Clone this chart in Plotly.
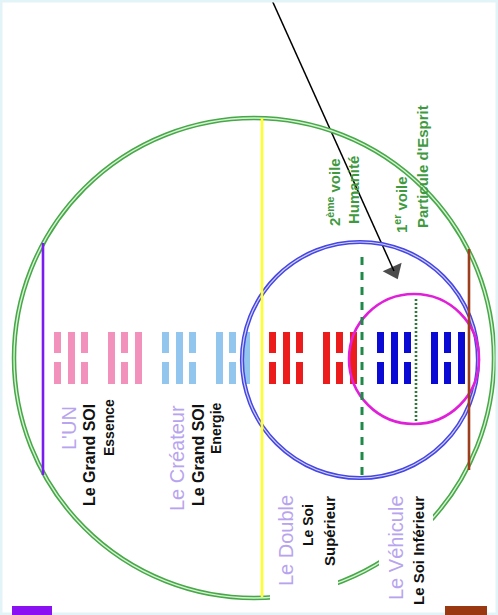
import plotly.graph_objects as go

W, H = 498, 615

# ---- data -------------------------------------------------------------
level_titles = ["L'UN", "Le Créateur", "Le Double", "Le Véhicule"]
level_subtitles = [["Le Grand SOI", "Essence"],
                   ["Le Grand SOI", "Energie"],
                   ["Le Soi", "Supérieur"],
                   ["Le Soi Inférieur"]]
# hexagram lines (1 = solid / yang, 0 = broken / yin), read left to right
hexagram_lines = [[0, 1, 0, 1, 0, 1],
                  [0, 1, 0, 1, 0, 1],
                  [0, 1, 0, 1, 0, 1],
                  [0, 1, 0, 1, 0, 1]]
hexagram_colors = ["#f291bc", "#92c6ef", "#ec1c1c", "#0a0ad4"]
veil_labels = [["2<sup>ème</sup> voile", "Humanité"],
               ["1<sup>er</sup> voile", "Particule d'Esprit"]]

# ---- layout constants -------------------------------------------------
group_x = [54, 162, 269, 377]
line_off = [0, 14, 27, 54, 67, 81]
bar_w = 7
bar_top, bar_bot = 332, 384
gap_top, gap_bot = 353, 362

title_pos = [(69, 428), (177, 458), (286, 541), (396, 548)]
sub_pos = [[(89, 455), (109, 428)],
           [(198, 455), (216, 428)],
           [(308, 525), (329, 531)],
           [(418, 551)]]
sub_size = [[16, 14], [16, 14], [14, 15], [15]]
veil_pos = [[(333, 192), (353, 190)], [(400, 205), (422, 167)]]
arrow_x = [271, 394]
arrow_y = [-2, 271]

shapes = []
# hexagram bars
for gx, lines, col in zip(group_x, hexagram_lines, hexagram_colors):
    for off, solid in zip(line_off, lines):
        x0 = gx + off
        if solid:
            shapes.append(dict(type="rect", x0=x0, x1=x0 + bar_w, y0=bar_top, y1=bar_bot,
                               fillcolor=col, line=dict(width=0)))
        else:
            shapes.append(dict(type="rect", x0=x0, x1=x0 + bar_w, y0=bar_top, y1=gap_top,
                               fillcolor=col, line=dict(width=0)))
            shapes.append(dict(type="rect", x0=x0, x1=x0 + bar_w, y0=gap_bot, y1=bar_bot,
                               fillcolor=col, line=dict(width=0)))


def circle(cx, cy, r, color, width):
    return dict(type="circle", x0=cx - r, x1=cx + r, y0=cy - r, y1=cy + r,
                line=dict(color=color, width=width), fillcolor="rgba(0,0,0,0)")


# big green double circle
shapes.append(circle(254, 358, 240, "#48a848", 4.5))
shapes.append(circle(254, 358, 240, "#d6f3d6", 1.4))
# gaps behind bottom labels
shapes.append(dict(type="rect", x0=270, x1=338, y0=565, y1=H, fillcolor="white", line=dict(width=0)))
shapes.append(dict(type="rect", x0=379, x1=433, y0=505, y1=H, fillcolor="white", line=dict(width=0)))
# faint border
shapes.append(dict(type="rect", x0=0, y0=0, x1=W, y1=H, line=dict(color="#e3f4f8", width=5)))
# blue double circle
shapes.append(circle(360, 360, 118, "#4646e0", 4.2))
shapes.append(circle(360, 360, 118, "#d2d2ff", 1.2))
# magenta circle
shapes.append(circle(414, 359, 65, "#e020d8", 2.6))

# vertical lines
shapes.append(dict(type="line", x0=43, x1=43, y0=243, y1=475, line=dict(color="#7a1cf0", width=2.6)))
shapes.append(dict(type="line", x0=262, x1=262, y0=118, y1=597, line=dict(color="#ffff2a", width=2.6)))
shapes.append(dict(type="line", x0=469, x1=469, y0=249, y1=470, line=dict(color="#9c3e1c", width=2.6)))
shapes.append(dict(type="line", x0=362, x1=362, y0=257, y1=477,
                   line=dict(color="#1f8a48", width=3, dash="8px,7px")))
shapes.append(dict(type="line", x0=416, x1=416, y0=299, y1=422,
                   line=dict(color="#2a7a3a", width=2.6, dash="2px,2px")))
# bottom colour swatches
shapes.append(dict(type="rect", x0=12, x1=52, y0=606, y1=H + 2, fillcolor="#8a12f2", line=dict(width=0)))
shapes.append(dict(type="rect", x0=445, x1=487, y0=606, y1=H + 2, fillcolor="#9a3812", line=dict(width=0)))

annotations = []
FONT = "Liberation Sans, Arial, sans-serif"
for t, (x, y) in zip(level_titles, title_pos):
    annotations.append(dict(x=x, y=y, text=t, textangle=-90, showarrow=False,
                            font=dict(family=FONT, size=20, color="#b8a4ee")))
for subs, poss, sizes in zip(level_subtitles, sub_pos, sub_size):
    for t, (x, y), s in zip(subs, poss, sizes):
        annotations.append(dict(x=x, y=y, text="<b>" + t + "</b>", textangle=-90, showarrow=False,
                                font=dict(family=FONT, size=s, color="#111111")))
for labs, poss in zip(veil_labels, veil_pos):
    for t, (x, y) in zip(labs, poss):
        annotations.append(dict(x=x, y=y, text="<b>" + t + "</b>", textangle=-90, showarrow=False,
                                font=dict(family=FONT, size=15, color="#3f9a3f")))

fig = go.Figure()
# black arrow
fig.add_trace(go.Scatter(x=arrow_x, y=arrow_y, mode="lines+markers", hoverinfo="skip",
                         line=dict(color="#000000", width=1.5),
                         marker=dict(symbol=["circle", "triangle-up"], size=[0, 18], angleref="previous",
                                     color="#000000", line=dict(width=0))))
fig.update_layout(
    width=W, height=H, autosize=False,
    margin=dict(l=0, r=0, t=0, b=0),
    paper_bgcolor="white", plot_bgcolor="white",
    xaxis=dict(range=[0, W], visible=False, fixedrange=True),
    yaxis=dict(range=[H, 0], visible=False, fixedrange=True),
    shapes=shapes, annotations=annotations, showlegend=False,
)
fig.write_html("out.html", config=dict(displayModeBar=False),
               post_script="document.body.style.margin='0';document.body.style.overflow='hidden';")
